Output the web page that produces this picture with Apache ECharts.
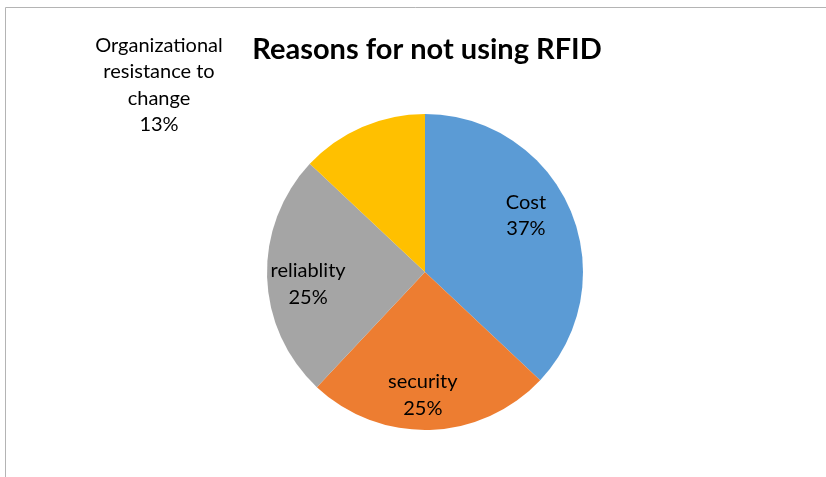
<!DOCTYPE html>
<html><head><meta charset="utf-8">
<script src="https://cdn.jsdelivr.net/npm/echarts@6/dist/echarts.min.js"></script>
<style>html,body{margin:0;padding:0;background:#fff}#c{width:826px;height:477px}</style>
</head><body><div id="c"></div>
<script>
const categories = ['Cost', 'security', 'reliablity', 'Organizational\nresistance to\nchange'];
const values = [37, 25, 25, 13];
const colors = ['#5B9BD5', '#ED7D31', '#A5A5A5', '#FFC000'];
const titleText = 'Reasons for not using RFID';

const data = categories.map((n, i) => ({ name: n, value: values[i], itemStyle: { color: colors[i] } }));
const FONT = 'Lato, "Open Sans", sans-serif';
const labelNudge = [[-11, -8], [-6, 1], [5, 8]];
const chart = echarts.init(document.getElementById('c'), null, { renderer: 'canvas' });
chart.setOption({
  animation: false,
  backgroundColor: '#fff',
  title: {
    text: titleText, left: 422, top: 30, textAlign: 'center',
    textStyle: { fontFamily: FONT, fontWeight: 'bold', fontSize: 29, color: '#000' }
  },
  graphic: [{
    type: 'polyline', shape: { points: [[5.5, 477], [5.5, 7.5], [826, 7.5]] },
    style: { stroke: '#b4b4b4', lineWidth: 1, fill: null }, silent: true
  }],
  series: [{
    type: 'pie', center: [425, 272], radius: [0, 158], startAngle: 90, clockwise: true,
    label: { show: false }, labelLine: { show: false }, silent: true,
    data: data
  }, {
    type: 'pie', center: [425, 272], radius: [80, 158], startAngle: 90, clockwise: true,
    silent: true, labelLine: { show: false },
    itemStyle: { color: 'rgba(0,0,0,0)' },
    label: {
      show: true, position: 'inside', formatter: p => p.name + '\n' + Math.round(p.percent) + '%',
      fontFamily: FONT, fontSize: 20, lineHeight: 26.5, color: '#000'
    },
    labelLayout: function (p) {
      if (p.dataIndex === 3) return { x: 159, y: 85, align: 'center', verticalAlign: 'middle' };
      const d = labelNudge[p.dataIndex];
      return { dx: d[0], dy: d[1] };
    },
    data: categories.map((n, i) => ({ name: n, value: values[i], itemStyle: { color: 'rgba(0,0,0,0)' } }))
  }]
});
</script></body></html>
